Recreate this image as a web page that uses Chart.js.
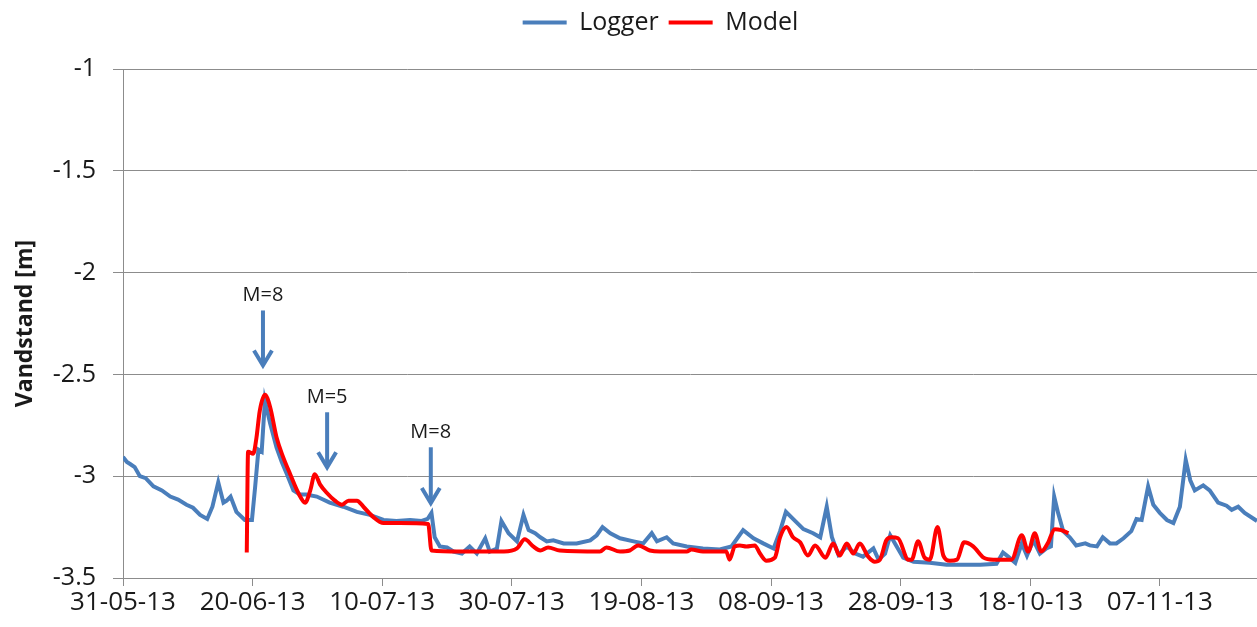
<!DOCTYPE html>
<html>
<head>
<meta charset="utf-8">
<script src="https://cdn.jsdelivr.net/npm/chart.js@4.4.1/dist/chart.umd.min.js"></script>
<style>
  html, body { margin: 0; padding: 0; background: #fff; }
  #wrap { width: 1257px; height: 627px; }
</style>
</head>
<body>
<div id="wrap"><canvas id="grafico" width="1257" height="627"></canvas></div>
<script>
// Dagsnummer regnet fra 31-05-13
const xTickDays = [0, 20, 40, 60, 80, 100, 120, 140, 160];
const xTickLabels = ['31-05-13', '20-06-13', '10-07-13', '30-07-13', '19-08-13', '08-09-13', '28-09-13', '18-10-13', '07-11-13'];

// Logger (målt vandstand)
const loggerDays = [0, 0.6, 1.1, 1.8, 2.6, 3.5, 4.7, 6, 7.3, 8.5, 9.8, 10.8, 11.9, 13.0, 13.8, 14.7, 15.5, 16.0, 16.6, 17.5,
  18.8, 19.9, 20.4, 20.9, 21.4, 21.9, 22.7, 23.7, 24.5, 25.3, 26.3, 27.3, 28.3, 29.9, 31.9, 34.0, 36.1, 38.1, 40.2, 42.2,
  44.3, 46.1, 47.0, 47.6, 48.1, 48.9, 50.0, 51.0, 52.3, 53.5, 54.6, 55.9, 56.6, 57.7, 58.4, 59.5, 60.8, 61.8, 62.6, 63.6,
  64.4, 65.4, 66.4, 68.0, 70.0, 72.1, 73.1, 74.0, 75.2, 76.7, 78.8, 80.3, 81.6, 82.4, 83.9, 84.9, 87.0, 89.5, 92.1, 93.9,
  95.7, 97.3, 98.8, 100.4, 101.4, 102.3, 103.4, 105.0, 106.5, 107.6, 108.6, 109.4, 110.4, 111.7, 113.0, 114.2, 115.8, 116.6, 117.6, 118.4,
  119.4, 120.4, 122.0, 124.5, 127.1, 129.7, 132.3, 134.8, 135.8, 136.6, 137.7, 138.7, 139.5, 140.5, 141.5, 142.5, 143.2, 143.7, 144.3, 145.1,
  146.1, 147.1, 148.5, 149.2, 150.3, 151.2, 152.3, 153.3, 154.4, 155.6, 156.4, 157.2, 158.2, 159.0, 160.0, 161.1, 162.1, 163.1, 164.0, 164.7,
  165.4, 166.7, 167.7, 169.0, 170.3, 171.1, 172.1, 173.1, 175.0];
const loggerLevels = [-2.905, -2.93, -2.94, -2.955, -3.00, -3.01, -3.05, -3.07, -3.10, -3.115, -3.14, -3.155, -3.19, -3.21, -3.15, -3.03, -3.13, -3.12, -3.10, -3.175,
  -3.215, -3.215, -3.05, -2.87, -2.88, -2.63, -2.74, -2.86, -2.93, -2.99, -3.07, -3.09, -3.09, -3.10, -3.13, -3.15, -3.175, -3.19, -3.215, -3.22,
  -3.215, -3.22, -3.21, -3.18, -3.30, -3.345, -3.35, -3.37, -3.38, -3.345, -3.38, -3.305, -3.37, -3.355, -3.22, -3.28, -3.32, -3.19, -3.265, -3.28,
  -3.30, -3.32, -3.315, -3.33, -3.33, -3.315, -3.29, -3.25, -3.28, -3.305, -3.32, -3.33, -3.28, -3.32, -3.30, -3.33, -3.345, -3.355, -3.36, -3.345,
  -3.265, -3.305, -3.33, -3.355, -3.27, -3.175, -3.21, -3.26, -3.28, -3.30, -3.15, -3.30, -3.385, -3.345, -3.38, -3.395, -3.355, -3.41, -3.38, -3.29,
  -3.345, -3.40, -3.42, -3.425, -3.435, -3.435, -3.435, -3.43, -3.375, -3.395, -3.425, -3.33, -3.39, -3.315, -3.38, -3.355, -3.345, -3.10, -3.18, -3.27,
  -3.30, -3.34, -3.33, -3.34, -3.345, -3.30, -3.33, -3.33, -3.305, -3.27, -3.21, -3.215, -3.05, -3.14, -3.18, -3.215, -3.23, -3.15, -2.92, -3.02,
  -3.07, -3.045, -3.07, -3.13, -3.145, -3.165, -3.15, -3.18, -3.22];

// Model (beregnet vandstand)
const modelDays = [19.1, 19.3, 20.1, 20.6, 21.1, 21.9, 22.7, 23.7, 24.7, 25.8, 27.1, 28.1, 28.9, 29.6, 30.4, 31.4, 32.7, 33.8, 34.8, 36.1,
  37.1, 38.6, 40.2, 42.7, 47.1, 47.6, 52.0, 58.8, 60.8, 62.0, 63.3, 64.4, 65.6, 67.4, 73.6, 74.6, 76.7, 78.2, 79.5, 81.3,
  82.9, 87.0, 87.7, 89.5, 93.1, 93.6, 94.4, 95.2, 96.2, 97.5, 98.3, 99.3, 100.6, 101.4, 102.4, 103.4, 104.5, 105.7, 106.8, 108.4,
  109.6, 110.6, 111.7, 112.7, 113.7, 115.0, 116.0, 116.8, 117.8, 118.6, 119.6, 121.2, 121.7, 122.7, 123.7, 124.5, 125.7, 126.6, 127.6, 128.7,
  129.8, 131.2, 132.8, 134.3, 137.1, 138.7, 139.7, 140.7, 141.7, 142.7, 143.8, 144.8, 145.9];
const modelLevels = [-3.375, -2.88, -2.89, -2.81, -2.68, -2.60, -2.66, -2.81, -2.905, -2.99, -3.085, -3.13, -3.07, -2.99, -3.04, -3.08, -3.12, -3.14, -3.12, -3.12,
  -3.15, -3.20, -3.23, -3.23, -3.235, -3.365, -3.37, -3.37, -3.355, -3.31, -3.345, -3.365, -3.35, -3.365, -3.37, -3.35, -3.37, -3.365, -3.34, -3.365,
  -3.37, -3.37, -3.36, -3.37, -3.37, -3.41, -3.345, -3.34, -3.345, -3.34, -3.38, -3.415, -3.40, -3.30, -3.25, -3.30, -3.325, -3.39, -3.34, -3.40,
  -3.33, -3.39, -3.33, -3.38, -3.33, -3.395, -3.42, -3.41, -3.315, -3.30, -3.305, -3.41, -3.41, -3.32, -3.40, -3.41, -3.25, -3.39, -3.415, -3.41,
  -3.325, -3.345, -3.40, -3.41, -3.41, -3.29, -3.37, -3.28, -3.37, -3.33, -3.26, -3.265, -3.28];

// Pile med tekst (M=...)
const arrowTexts = ['M=8', 'M=5', 'M=8'];
const arrowDays = [21.6, 31.5, 47.5];
const arrowTips = [-2.456, -2.956, -3.132];
const arrowTails = [-2.186, -2.686, -2.858];
const arrowLabels = [-2.113, -2.613, -2.784];

const blaa = '#4a7ebb';
const roed = '#ff0000';
const gitter = '#8c8c8c';
const tekst = '#1a1a1a';

const pilePlugin = {
  id: 'pile',
  afterLayout(chart) {
    // flyt forklaringen lidt til højre som i originalen
    chart.legend.left += 64;
  },
  afterDatasetsDraw(chart) {
    const { ctx, scales: { x, y } } = chart;
    ctx.save();
    ctx.strokeStyle = blaa;
    ctx.lineWidth = 4;
    ctx.lineCap = 'butt';
    ctx.fillStyle = tekst;
    ctx.font = '20px "Open Sans"';
    ctx.textAlign = 'center';
    ctx.textBaseline = 'middle';
    arrowTexts.forEach((t, i) => {
      const px = x.getPixelForValue(arrowDays[i]);
      const yTip = y.getPixelForValue(arrowTips[i]);
      const yTail = y.getPixelForValue(arrowTails[i]);
      ctx.beginPath();
      ctx.moveTo(px, yTail);
      ctx.lineTo(px, yTip - 2);
      ctx.stroke();
      ctx.beginPath();
      ctx.moveTo(px - 9, yTip - 15);
      ctx.lineTo(px, yTip);
      ctx.lineTo(px + 9, yTip - 15);
      ctx.stroke();
      ctx.fillText(t, px, y.getPixelForValue(arrowLabels[i]));
    });
    ctx.restore();
  }
};

const ctx = document.getElementById('grafico').getContext('2d');
const grafico = new Chart(ctx, {
  type: 'line',
  data: {
    datasets: [
      {
        label: 'Logger',
        data: loggerDays.map((d, i) => ({ x: d, y: loggerLevels[i] })),
        borderColor: blaa,
        backgroundColor: blaa,
        borderWidth: 4,
        pointRadius: 0,
        tension: 0,
        order: 1
      },
      {
        label: 'Model',
        data: modelDays.map((d, i) => ({ x: d, y: modelLevels[i] })),
        borderColor: roed,
        backgroundColor: roed,
        borderWidth: 4,
        pointRadius: 0,
        cubicInterpolationMode: 'monotone',
        order: 0
      }
    ]
  },
  options: {
    responsive: false,
    animation: false,
    layout: { padding: 0 },
    plugins: {
      legend: {
        position: 'top',
        labels: {
          color: tekst,
          font: { family: 'Open Sans', size: 25 },
          boxWidth: 44,
          boxHeight: 4,
          padding: 10,
          sort: (a, b) => a.datasetIndex - b.datasetIndex,
          generateLabels: chart => Chart.defaults.plugins.legend.labels.generateLabels(chart)
            .map(l => Object.assign(l, { lineWidth: 0 }))
        }
      },
      // tom afstand mellem forklaring og plotområde
      subtitle: {
        display: true,
        text: '',
        weight: 500,
        font: { size: 10 },
        padding: { top: 0, bottom: 12 }
      },
      tooltip: { enabled: false }
    },
    scales: {
      x: {
        type: 'linear',
        min: 0,
        max: 175,
        afterBuildTicks: s => { s.ticks = xTickDays.map(v => ({ value: v })); },
        afterFit: s => { s.height = 49; },
        ticks: {
          color: tekst,
          font: { family: 'Open Sans', size: 26 },
          padding: 1,
          maxRotation: 0,
          autoSkip: false,
          callback: (v) => xTickLabels[xTickDays.indexOf(v)]
        },
        grid: { drawOnChartArea: false, drawTicks: true, tickLength: 8, color: gitter },
        border: { color: gitter, width: 1 }
      },
      y: {
        min: -3.5,
        max: -1,
        afterFit: s => { s.width = 123; },
        ticks: {
          stepSize: 0.5,
          color: tekst,
          font: { family: 'Open Sans', size: 25 },
          padding: 17,
          callback: v => v.toString()
        },
        grid: { color: gitter, tickLength: 10 },
        border: { color: gitter, width: 1 },
        title: {
          display: true,
          text: 'Vandstand [m]',
          color: tekst,
          font: { family: 'Open Sans', size: 23, weight: 'bold' },
          padding: { top: 12, bottom: 0 }
        }
      }
    }
  },
  plugins: [pilePlugin]
});
</script>
</body>
</html>
